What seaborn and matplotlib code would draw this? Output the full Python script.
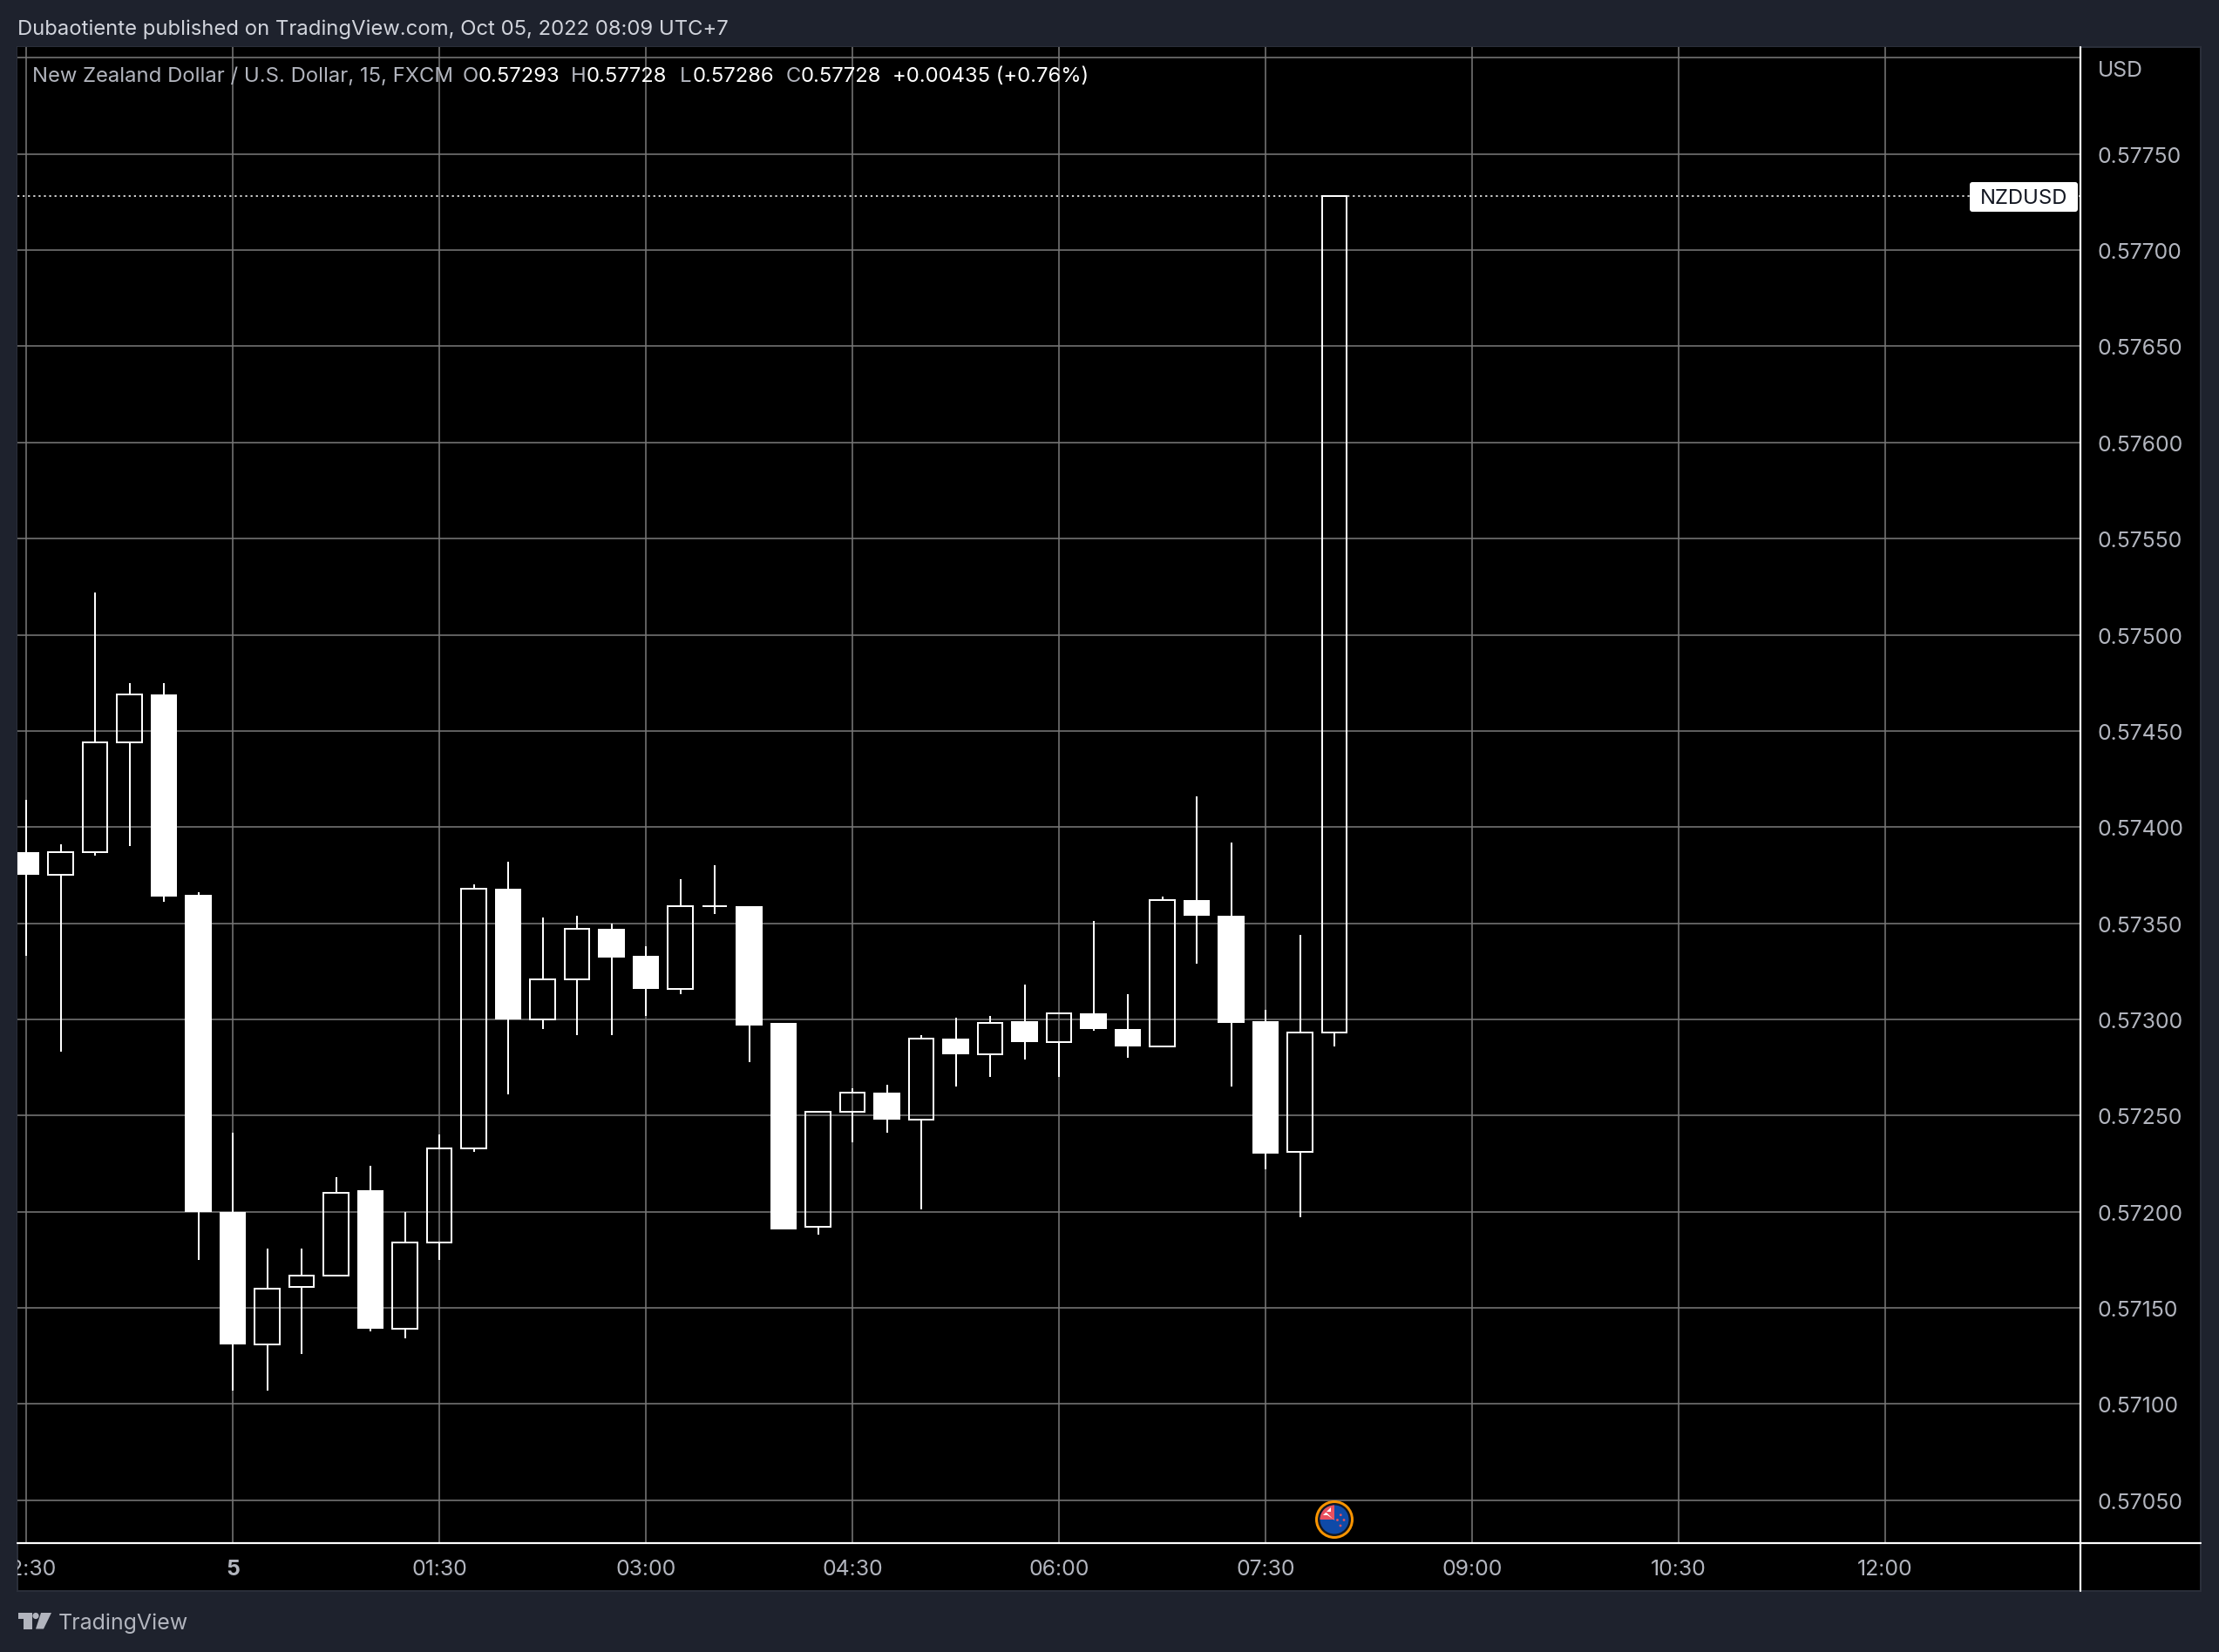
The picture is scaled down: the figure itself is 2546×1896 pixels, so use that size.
import numpy as np
import pandas as pd
import seaborn as sns
import matplotlib
matplotlib.use("Agg")
import matplotlib.pyplot as plt
from matplotlib.lines import Line2D
from matplotlib.patches import Rectangle, Circle, Polygon, FancyBboxPatch
from matplotlib.transforms import Bbox, Affine2D

# ---------- data ----------
minutes = [-90, -75, -60, -45, -30, -15, 0, 15, 30, 45, 60, 75, 90, 105, 120, 135, 150, 165, 180, 195,
           210, 225, 240, 255, 270, 285, 300, 315, 330, 345, 360, 375, 390, 405, 420, 435, 450, 465, 480]
opens = [.57387, .57375, .57387, .57444, .57469, .57365, .57200, .57131, .57161, .57167, .57211, .57139, .57184,
         .57233, .57368, .57300, .57321, .57347, .57333, .57316, .57359, .57359, .57298, .57192, .57252, .57262,
         .57248, .57290, .57282, .57299, .57288, .57303, .57295, .57286, .57362, .57354, .57299, .57231, .57293]
highs = [.57414, .57391, .57522, .57475, .57475, .57366, .57241, .57181, .57181, .57218, .57224, .57200, .57240,
         .57370, .57382, .57353, .57354, .57350, .57338, .57373, .57380, .57359, .57298, .57252, .57264, .57266,
         .57292, .57301, .57302, .57318, .57303, .57351, .57313, .57364, .57416, .57392, .57305, .57344, .57728]
lows = [.57333, .57283, .57385, .57390, .57361, .57175, .57107, .57107, .57126, .57167, .57138, .57134, .57175,
        .57231, .57261, .57295, .57292, .57292, .57302, .57313, .57355, .57278, .57191, .57188, .57236, .57241,
        .57201, .57265, .57270, .57279, .57270, .57294, .57280, .57286, .57329, .57265, .57222, .57197, .57286]
closes = [.57375, .57387, .57444, .57469, .57364, .57200, .57131, .57160, .57167, .57210, .57139, .57184, .57233,
          .57368, .57300, .57321, .57347, .57332, .57316, .57359, .57359, .57297, .57191, .57252, .57262, .57248,
          .57290, .57282, .57298, .57288, .57303, .57295, .57286, .57362, .57354, .57298, .57230, .57293, .57728]
last_close = .57728
price_ticks = [.5705, .5710, .5715, .5720, .5725, .5730, .5735, .5740, .5745, .5750, .5755, .5760, .5765, .5770,
               .5775, .5780]
price_labels = ['0.57050', '0.57100', '0.57150', '0.57200', '0.57250', '0.57300', '0.57350', '0.57400', '0.57450',
                '0.57500', '0.57550', '0.57600', '0.57650', '0.57700', '0.57750', '']
time_ticks = [-90, 0, 90, 180, 270, 360, 450, 540, 630, 720]
time_labels = ['22:30', '5', '01:30', '03:00', '04:30', '06:00', '07:30', '09:00', '10:30', '12:00']

publish_text = 'Dubaotiente published on TradingView.com, Oct 05, 2022 08:09 UTC+7'
legend_parts = [('New Zealand Dollar / U.S. Dollar, 15, FXCM', 37, 'g'), ('O', 531, 'g'), ('0.57293', 549, 'w'),
                ('H', 655, 'g'), ('0.57728', 673, 'w'), ('L', 780, 'g'), ('0.57286', 795, 'w'),
                ('C', 902, 'g'), ('0.57728', 919, 'w'), ('+0.00435 (+0.76%)', 1024, 'w')]

# ---------- style ----------
W, H = 2546, 1896
DPI = 100
px = 72 / DPI
BG = '#1e222d'
GREY = '#b2b5be'
sns.set_theme(style='darkgrid', rc={
    'axes.facecolor': 'black', 'figure.facecolor': BG, 'grid.color': '#767676',
    'grid.linewidth': 1.6 * px, 'axes.edgecolor': 'black',
})
plt.rcParams['font.family'] = ['Inter', 'DejaVu Sans']
FS = 23.85 * px
FS_TICK = 24.8 * px

df = pd.DataFrame(dict(minute=minutes, open=opens, high=highs, low=lows, close=closes))
df['top'] = df[['open', 'close']].max(axis=1)
df['bottom'] = df[['open', 'close']].min(axis=1)
upper = df.assign(bar=df.index * 2).melt(id_vars=['minute', 'bar'], value_vars=['high', 'top'], value_name='price')
lower = df.assign(bar=df.index * 2 + 1).melt(id_vars=['minute', 'bar'], value_vars=['bottom', 'low'], value_name='price')
wicks = pd.concat([upper, lower], ignore_index=True)

fig = plt.figure(figsize=(W / DPI, H / DPI), dpi=DPI, facecolor=BG)

# page furniture (pixel coordinates)
page = fig.add_axes([0, 0, 1, 1], zorder=0)
page.set_xlim(0, W)
page.set_ylim(H, 0)
page.axis('off')
page.add_patch(Rectangle((20, 54), 2505, 1772, facecolor='black', edgecolor='#2a2e39', lw=2 * px))

L, R, T, B = 20, 2387, 54, 1771
ax = fig.add_axes([L / W, (H - B) / H, (R - L) / W, (B - T) / H], zorder=1)

# wicks and bodies
sns.lineplot(data=wicks, x='minute', y='price', units='bar', estimator=None, sort=False,
             color='white', lw=2 * px, ax=ax, solid_capstyle='butt', legend=False, zorder=3)
down = df[df.close < df.open]
up = df[df.close >= df.open]
ax.bar(down.minute, down.top - down.bottom, bottom=down.bottom, width=11.4, color='white', lw=0, zorder=4)
ax.bar(up.minute, up.top - up.bottom, bottom=up.bottom, width=10.7, facecolor='none', edgecolor='white',
       lw=2 * px, zorder=4)

# last price line and label
ax.axhline(last_close, color='white', lw=1.6 * px, dashes=(1.4, 2.4), zorder=2)

ax.set_xlim(-93.8, 805.06)
ax.set_ylim(.570277, .578056)
ax.set_xlabel('')
ax.set_ylabel('')
ax.set_xticks(time_ticks, time_labels)
ax.set_yticks(price_ticks, price_labels)
ax.yaxis.tick_right()
ax.tick_params(axis='x', length=0, pad=19.5 * px, labelsize=FS_TICK, labelcolor=GREY)
ax.tick_params(axis='y', length=0, pad=20 * px, labelsize=FS_TICK, labelcolor=GREY)
ax.grid(True)
ax.set_axisbelow(True)
for s in ax.spines.values():
    s.set_visible(False)
clip = Bbox([[L, 0], [W, H]])
for lab in ax.get_xticklabels():
    lab.set_clip_box(clip)
    lab.set_clip_on(True)
    if lab.get_text() == '5':
        lab.set_fontweight('bold')
for lab in ax.get_yticklabels():
    lab.set_transform(lab.get_transform() + Affine2D().translate(0, -1))

# overlay
top = fig.add_axes([0, 0, 1, 1], zorder=2)
top.set_xlim(0, W)
top.set_ylim(H, 0)
top.axis('off')
top.patch.set_alpha(0)
top.add_line(Line2D([L, 2525], [B, B], color='white', lw=2.2 * px))
top.add_line(Line2D([R, R], [T, 1826], color='white', lw=2.2 * px))

top.add_patch(FancyBboxPatch((2262, 211), 120, 30, boxstyle='round,pad=2,rounding_size=3', facecolor='white', lw=0))
top.text(2322, 227.5, 'NZDUSD', color='#131722', fontsize=FS, ha='center', va='center')
top.text(2407, 81.5, 'USD', color=GREY, fontsize=FS_TICK, ha='left', va='center')

top.text(20.5, 33.5, publish_text, color='#d1d4dc', fontsize=FS, ha='left', va='center')
for txt, x, c in legend_parts:
    top.text(x, 87.5, txt, color='white' if c == 'w' else GREY, fontsize=FS, ha='left', va='center')

# TradingView logo
top.add_patch(Polygon([(20.5, 1851), (37, 1851), (37, 1869.5), (27, 1869.5), (27, 1858), (20.5, 1858)],
                      facecolor=GREY, lw=0))
top.add_patch(Circle((41, 1854.5), 3.6, facecolor=GREY, lw=0))
top.add_patch(Polygon([(47, 1851), (59, 1851), (50, 1869.5), (41, 1869.5)], facecolor=GREY, lw=0))
top.text(67, 1863.5, 'TradingView', color=GREY, fontsize=25 * px, ha='left', va='center')

# NZD currency flag
fx, fy = 1531, 1744
top.add_patch(Circle((fx, fy), 20.5, facecolor='#131722', edgecolor='#f89400', lw=3 * px, zorder=5))
disc = Circle((fx, fy), 16.5, facecolor='#0f4aa8', lw=0, zorder=6)
top.add_patch(disc)
jack = Rectangle((fx - 17, fy - 17), 17, 17, facecolor='#e9505e', lw=0, zorder=7)
top.add_patch(jack)
jack.set_clip_path(disc)
cross = Polygon([(fx - 1, fy), (fx - 10, fy - 9), (fx - 4, fy - 9), (fx - 4, fy - 14), (fx - 13, fy - 5),
                 (fx - 8, fy - 5), (fx + 1, fy + 1)], facecolor='white', lw=0, zorder=8)
top.add_patch(cross)
cross.set_clip_path(disc)
for sx, sy in [(7.3, -5.3), (3.5, 0.5), (11, 0.5), (7, 7)]:
    top.add_patch(Circle((fx + sx, fy + sy), 1.4, facecolor='#e9505e', lw=0, zorder=8))

fig.savefig('out.png', dpi=DPI, facecolor=BG)
